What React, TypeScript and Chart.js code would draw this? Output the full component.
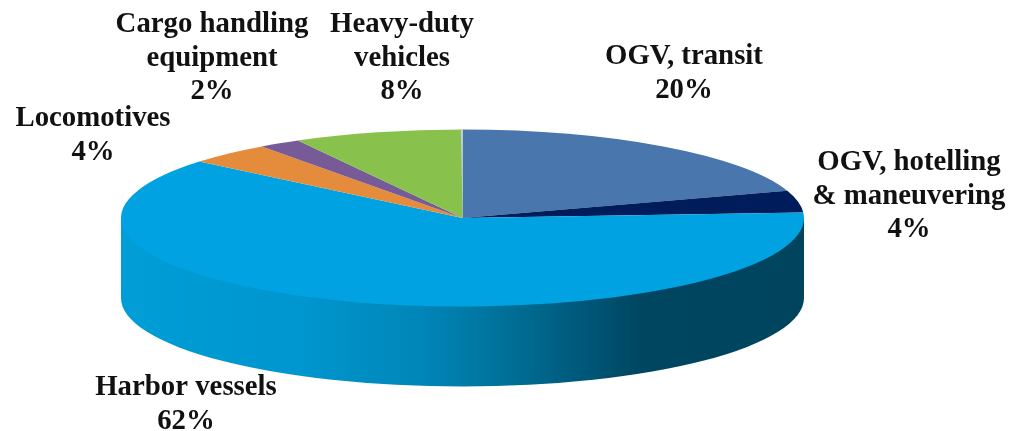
import React, { useEffect, useRef } from "react";
import { Chart, registerables } from "chart.js";

Chart.register(...registerables);

const categories = [
  "OGV, transit",
  "OGV, hotelling & maneuvering",
  "Harbor vessels",
  "Locomotives",
  "Cargo handling equipment",
  "Heavy-duty vehicles",
];
const values = [20, 4, 62, 4, 2, 8];
const sliceColors = ["#4A76AE", "#001C5A", "#00A2E2", "#E58B3C", "#775B96", "#88C14B"];

// Line breaks of each label and where its block sits (centre x, first baseline)
const labelLines = [
  ["OGV, transit"],
  ["OGV, hotelling", "& maneuvering"],
  ["Harbor vessels"],
  ["Locomotives"],
  ["Cargo handling", "equipment"],
  ["Heavy-duty", "vehicles"],
];
const labelAnchors = [
  [684, 64],
  [909, 170],
  [186, 395],
  [93, 126],
  [212, 32],
  [402, 32],
];

const CX = 462.5;
const CY = 218;
const RADIUS = 341.5;
const RY = 88.5;
const DEPTH = 80;
const LINE_H = 33.5;
const FONT = 'bold 28.8px "Liberation Serif", serif';

const pie3d = {
  id: "pie3d",
  beforeDatasetsDraw(chart: any) {
    const { ctx } = chart;
    const arc = chart.getDatasetMeta(0).data[0];
    // side wall of the front half
    const g = ctx.createLinearGradient(CX - RADIUS, 0, CX + RADIUS, 0);
    const stops: [number, string][] = [
      [0, "#009DD6"],
      [0.26, "#0096CF"],
      [0.44, "#0086B8"],
      [0.555, "#00729A"],
      [0.67, "#00597B"],
      [0.76, "#004660"],
      [1, "#00445E"],
    ];
    stops.forEach(([o, c]) => g.addColorStop(o, c));
    ctx.save();
    ctx.fillStyle = g;
    ctx.beginPath();
    ctx.moveTo(CX + RADIUS, CY);
    ctx.lineTo(CX + RADIUS, CY + DEPTH);
    ctx.ellipse(CX, CY + DEPTH, RADIUS, RY, 0, 0, Math.PI);
    ctx.lineTo(CX - RADIUS, CY);
    ctx.closePath();
    ctx.fill();
    ctx.restore();
    // squash the circular pie into the top face
    ctx.save();
    ctx.translate(CX, CY);
    ctx.scale(1, RY / RADIUS);
    ctx.translate(-arc.x, -arc.y);
  },
  afterDatasetsDraw(chart: any) {
    const { ctx } = chart;
    const arc = chart.getDatasetMeta(0).data[0];
    // pale sliver at twelve o'clock
    ctx.fillStyle = "#C6CCE6";
    ctx.beginPath();
    ctx.moveTo(arc.x, arc.y);
    ctx.lineTo(arc.x - 1.6, arc.y - RADIUS);
    ctx.lineTo(arc.x + 0.4, arc.y - RADIUS);
    ctx.closePath();
    ctx.fill();
    ctx.restore();
  },
  afterDraw(chart: any) {
    const { ctx } = chart;
    ctx.save();
    ctx.font = FONT;
    ctx.fillStyle = "#111111";
    ctx.textAlign = "center";
    ctx.textBaseline = "alphabetic";
    labelLines.forEach((lines, i) => {
      const [x, y] = labelAnchors[i];
      [...lines, `${values[i]}%`].forEach((t, j) => ctx.fillText(t, x, y + j * LINE_H));
    });
    ctx.restore();
  },
};

export default function App() {
  const ref = useRef<HTMLCanvasElement | null>(null);
  useEffect(() => {
    const chart = new Chart(ref.current as HTMLCanvasElement, {
      type: "pie",
      data: {
        labels: categories,
        datasets: [
          {
            data: values,
            backgroundColor: sliceColors,
            borderWidth: 0,
            radius: RADIUS,
            clip: false,
          } as any,
        ],
      },
      options: {
        responsive: false,
        animation: false,
        plugins: { legend: { display: false }, tooltip: { enabled: false } },
      },
      plugins: [pie3d],
    });
    return () => chart.destroy();
  }, []);
  return (
    <div style={{ position: "fixed", left: 0, top: 0, width: 1013, height: 431, background: "#fff" }}>
      <canvas ref={ref} width={1013} height={431} style={{ display: "block" }} />
    </div>
  );
}
